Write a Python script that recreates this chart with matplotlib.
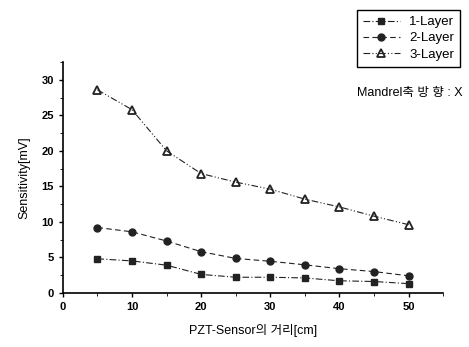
import matplotlib.pyplot as plt
from matplotlib.ticker import MultipleLocator

plt.rcParams['font.family'] = ['Liberation Sans', 'Noto Sans CJK KR', 'DejaVu Sans']

distance = [5, 10, 15, 20, 25, 30, 35, 40, 45, 50]
layer1 = [4.8, 4.5, 3.9, 2.6, 2.2, 2.2, 2.1, 1.7, 1.6, 1.3]
layer2 = [9.2, 8.6, 7.3, 5.8, 4.85, 4.45, 3.95, 3.4, 3.0, 2.4]
layer3 = [28.6, 25.8, 20.0, 16.8, 15.6, 14.6, 13.2, 12.1, 10.8, 9.6]
labels = ['1-Layer', '2-Layer', '3-Layer']

fig = plt.figure(figsize=(4.69, 3.47), dpi=100)
ax = fig.add_axes([0.134, 0.156, 0.811, 0.665])

ax.plot(distance, layer1, color='#222222', lw=0.8, ls=(0, (6, 2, 1, 2)),
        marker='s', ms=4.5, label=labels[0])
ax.plot(distance, layer2, color='#222222', lw=0.8, ls=(0, (5, 3)),
        marker='o', ms=5, label=labels[1])
ax.plot(distance, layer3, color='#222222', lw=0.8, ls=(0, (6, 2, 1, 2, 1, 2)),
        marker='^', ms=5.5, mfc='none', mew=1.3, label=labels[2])

ax.set_xlim(0, 55)
ax.set_ylim(0, 32.5)
ax.xaxis.set_major_locator(MultipleLocator(10))
ax.xaxis.set_minor_locator(MultipleLocator(5))
ax.yaxis.set_major_locator(MultipleLocator(5))
ax.yaxis.set_minor_locator(MultipleLocator(2.5))
ax.spines['top'].set_visible(False)
ax.spines['right'].set_visible(False)
ax.spines['left'].set_linewidth(1.2)
ax.spines['bottom'].set_linewidth(1.2)
ax.tick_params(labelsize=8, direction='out', length=3, width=1)
ax.tick_params(which='minor', length=2)
for t in ax.get_xticklabels() + ax.get_yticklabels():
    t.set_fontweight('bold')

ax.set_xlabel('PZT-Sensor의 거리[cm]', fontsize=9, labelpad=9)
ax.set_ylabel('Sensitivity[mV]', fontsize=9, labelpad=8)

fig.text(0.987, 0.732, 'Mandrel축 방 향 : X', ha='right', va='center', fontsize=9)

fig.legend(loc='upper right', bbox_to_anchor=(0.995, 0.99), fontsize=9.5,
           frameon=True, fancybox=False, edgecolor='black', framealpha=1,
           handlelength=2.8, borderpad=0.45, labelspacing=0.3, handletextpad=0.7)

fig.savefig('out.png', dpi=100)
